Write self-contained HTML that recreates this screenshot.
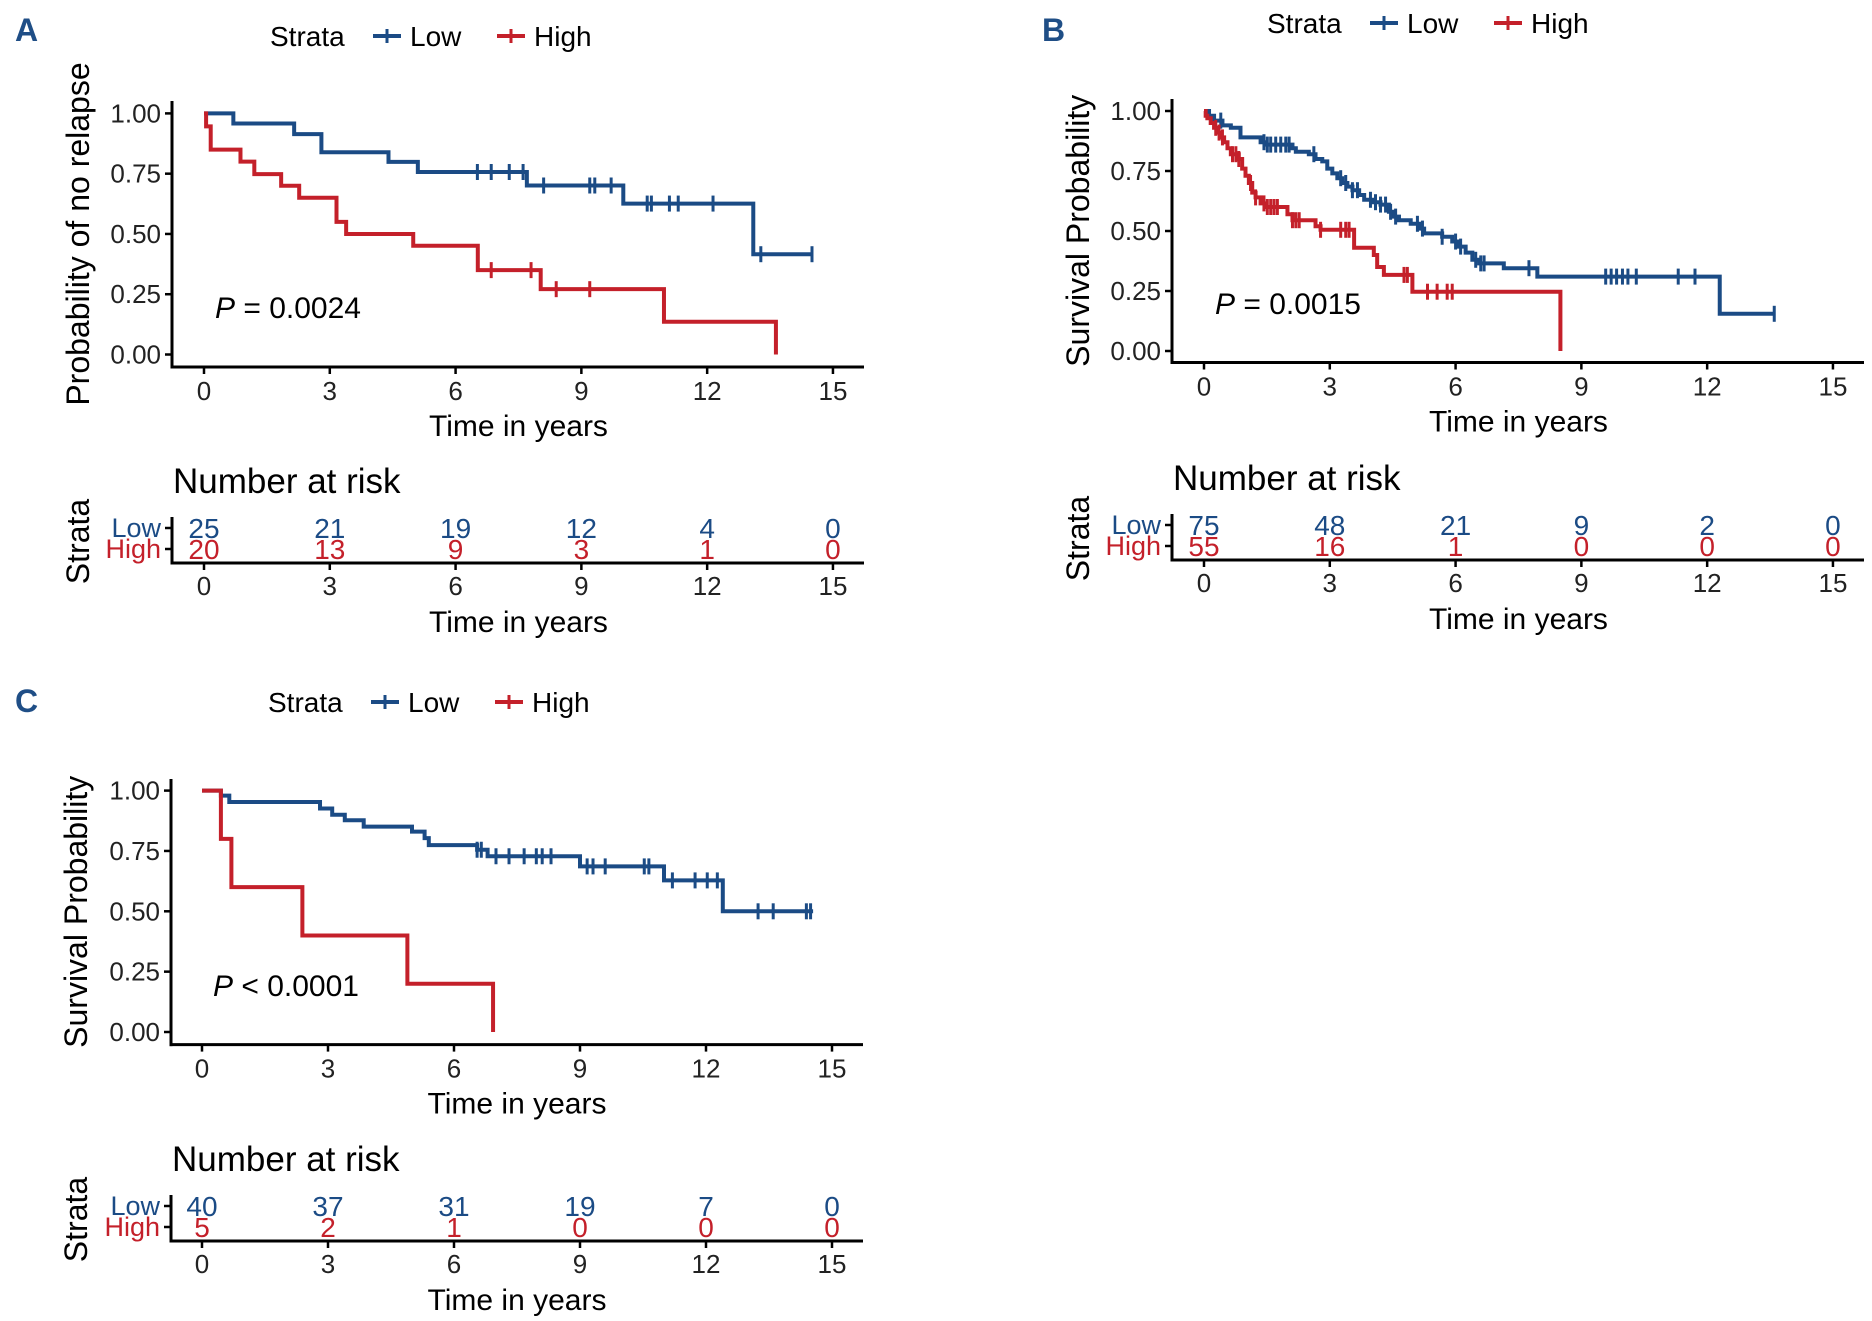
<!DOCTYPE html>
<html><head><meta charset="utf-8">
<style>
html,body{margin:0;padding:0;background:#fff;}
svg{display:block;}
text{font-family:"Liberation Sans",Arial,sans-serif;}
</style></head>
<body>
<svg id="fig" width="1872" height="1321" viewBox="0 0 1872 1321" xmlns="http://www.w3.org/2000/svg"></svg>
<script>
// ===== Panel A data =====
const aLowSteps = [[0,1.0],[0.70,0.958],[2.15,0.914],[2.8,0.839],[4.4,0.799],[5.1,0.757],[7.7,0.701],[10.0,0.626],[13.1,0.416],[14.5,0.416]];
const aLowCens = [6.52,6.85,7.28,7.61,8.1,9.2,9.32,9.71,10.57,10.67,11.1,11.31,12.14,13.28,14.5];
const aHighSteps = [[0,1.0],[0.05,0.946],[0.16,0.85],[0.87,0.80],[1.2,0.748],[1.84,0.70],[2.27,0.65],[3.16,0.55],[3.39,0.50],[4.99,0.451],[6.53,0.35],[8.03,0.271],[10.97,0.136],[13.64,0.0],[13.64,0.0]];
const aHighCens = [6.85,7.8,8.4,9.2];
const aRiskLow = [25,21,19,12,4,0];
const aRiskHigh = [20,13,9,3,1,0];

// ===== Panel B data =====
const bLowSteps = [[0,1.0],[0.12,0.98],[0.24,0.96],[0.44,0.94],[0.64,0.93],[0.87,0.89],[1.35,0.87],[1.47,0.86],[2.11,0.845],[2.19,0.83],[2.50,0.82],[2.66,0.80],[2.82,0.79],[2.94,0.76],[3.06,0.74],[3.18,0.72],[3.30,0.70],[3.42,0.685],[3.54,0.67],[3.70,0.65],[3.82,0.63],[4.01,0.62],[4.21,0.61],[4.41,0.58],[4.53,0.56],[4.65,0.545],[4.93,0.53],[5.13,0.51],[5.25,0.49],[5.68,0.476],[5.92,0.456],[6.08,0.435],[6.24,0.41],[6.40,0.38],[6.56,0.365],[7.15,0.345],[7.95,0.31],[12.3,0.155],[13.6,0.155]];
const bLowCens = [0.40,1.43,1.51,1.59,1.71,1.83,1.95,2.03,2.62,3.26,3.38,3.54,3.66,3.97,4.09,4.21,4.33,4.45,4.57,5.09,5.21,5.68,6.00,6.12,6.48,6.60,6.68,7.75,9.58,9.71,9.84,9.98,10.11,10.31,11.31,11.71,13.6];
const bHighSteps = [[0,1.0],[0.04,0.98],[0.08,0.97],[0.16,0.95],[0.24,0.93],[0.32,0.91],[0.40,0.89],[0.48,0.87],[0.56,0.845],[0.64,0.82],[0.83,0.80],[0.91,0.76],[0.99,0.73],[1.07,0.70],[1.15,0.66],[1.23,0.64],[1.35,0.615],[1.47,0.60],[1.99,0.57],[2.11,0.545],[2.66,0.52],[2.78,0.505],[3.58,0.43],[4.05,0.40],[4.13,0.35],[4.29,0.317],[4.97,0.247],[8.5,0.0],[8.5,0.0]];
const bHighCens = [0.28,0.36,0.44,0.68,0.76,0.83,1.11,1.23,1.43,1.51,1.59,1.67,1.75,2.11,2.19,2.27,2.78,3.26,3.38,3.46,4.77,4.85,5.33,5.56,5.80,5.92];
const bRiskLow = [75,48,21,9,2,0];
const bRiskHigh = [55,16,1,0,0,0];

// ===== Panel C data =====
const cLowSteps = [[0,1.0],[0.45,0.979],[0.65,0.953],[2.81,0.926],[3.1,0.90],[3.4,0.877],[3.85,0.851],[5.0,0.83],[5.3,0.803],[5.4,0.774],[6.55,0.755],[6.8,0.728],[9.0,0.686],[11.0,0.628],[12.4,0.50],[14.55,0.50]];
const cLowCens = [6.55,6.65,7.0,7.31,7.67,7.96,8.1,8.31,9.17,9.31,9.6,10.53,10.64,11.2,11.74,12.03,12.27,13.24,13.6,14.39,14.49];
const cHighSteps = [[0,1.0],[0.45,0.80],[0.7,0.60],[2.39,0.40],[4.89,0.20],[6.93,0.0],[6.93,0.0]];
const cHighCens = [];
const cRiskLow = [40,37,31,19,7,0];
const cRiskHigh = [5,2,1,0,0,0];

const xTicks = [0,3,6,9,12,15];
const yTicks = [0,0.25,0.5,0.75,1.0];
const yTickLabels = ["0.00","0.25","0.50","0.75","1.00"];

const BLUE = "#1b4b85", RED = "#c4202a";
const NS = "http://www.w3.org/2000/svg";
const svg = document.getElementById("fig");

function mk(tag, attrs, parent, txt){
  const e = document.createElementNS(NS, tag);
  for (const k in attrs) e.setAttribute(k, attrs[k]);
  if (txt !== undefined) e.textContent = txt;
  (parent || svg).appendChild(e);
  return e;
}

function panel(p){
  const g = mk("g", {});
  
  
  const X = t => p.x0 + t * p.pxYr;
  const Y = v => p.y0 - v * (p.y0 - p.y1);

  const lt = mk("text", {x:p.lx, y:p.ly, "font-size":32, "font-weight":"bold", fill:"#1f4e86"}, g, p.id);
  
  

  const lg = mk("g", {}, g);
  
  
  mk("text", {x:p.legX, y:p.legY+10, "font-size":28, fill:"#000"}, lg, "Strata");
  [[BLUE,"Low",0],[RED,"High",124]].forEach(([c,lab,off])=>{
    const e = mk("g", {}, lg);
    
    
    const lx = p.legX + 103 + off;
    mk("line", {x1:lx, y1:p.legY, x2:lx+28, y2:p.legY, stroke:c, "stroke-width":4}, e);
    mk("line", {x1:lx+14, y1:p.legY-7, x2:lx+14, y2:p.legY+7, stroke:c, "stroke-width":3}, e);
    mk("text", {x:lx+37, y:p.legY+10, "font-size":28, fill:"#000"}, e, lab);
  });

  const ax = mk("g", {}, g);
  
  
  mk("line", {x1:p.yax, y1:p.ytop, x2:p.yax, y2:p.axY+1.5, stroke:"#000", "stroke-width":3}, ax);
  mk("line", {x1:p.yax-1.5, y1:p.axY, x2:p.axEnd, y2:p.axY, stroke:"#000", "stroke-width":3}, ax);
  yTicks.forEach((v,i)=>{
    mk("line", {x1:p.yax-7, y1:Y(v), x2:p.yax, y2:Y(v), stroke:"#000", "stroke-width":2.5}, ax);
    const t = mk("text", {x:p.yax-11, y:Y(v)+9, "font-size":26, "text-anchor":"end", fill:"#222"}, ax, yTickLabels[i]);
    
    
  });
  xTicks.forEach(v=>{
    mk("line", {x1:X(v), y1:p.axY, x2:X(v), y2:p.axY+7, stroke:"#000", "stroke-width":2.5}, ax);
    const t = mk("text", {x:X(v), y:p.axY+33, "font-size":26, "text-anchor":"middle", fill:"#222"}, ax, String(v));
    
    
  });
  const xt = mk("text", {x:(X(0)+X(15))/2, y:p.axY+69, "font-size":30, "text-anchor":"middle", fill:"#000"}, ax, "Time in years");
  
  
  const ycy = (p.ytop + p.axY)/2;
  const yt = mk("text", {x:p.ytx, y:ycy, "font-size":32, "text-anchor":"middle", fill:"#000", transform:`rotate(-90 ${p.ytx} ${ycy})`}, ax, p.ytitle);
  
  

  function curve(steps, cens, color, name){
    const cg = mk("g", {}, g);
    
    
    let d = `M${X(steps[0][0])},${Y(steps[0][1])}`;
    for (let i=1;i<steps.length;i++){
      d += ` H${X(steps[i][0])} V${Y(steps[i][1])}`;
    }
    const path = mk("path", {d:d, fill:"none", stroke:color, "stroke-width":4, "stroke-linejoin":"miter"}, cg);
    
    
    const lvl = t => { let v = steps[0][1]; for (const s of steps){ if (s[0] <= t) v = s[1]; } return v; };
    cens.forEach(t=>{
      const m = mk("line", {x1:X(t), y1:Y(lvl(t))-8, x2:X(t), y2:Y(lvl(t))+8, stroke:color, "stroke-width":3}, cg);
      
      
    });
  }
  curve(p.lowSteps, p.lowCens, BLUE, "low-curve");
  curve(p.highSteps, p.highCens, RED, "high-curve");

  const pv = mk("text", {x:p.px, y:p.py, "font-size":30, fill:"#000"}, g);
  
  
  mk("tspan", {"font-style":"italic"}, pv, "P");
  mk("tspan", {}, pv, p.ptxt);

  const rt = mk("g", {}, g);
  
  
  const rtt = mk("text", {x:p.yax+1, y:p.rLow-35, "font-size":35, fill:"#000"}, rt, "Number at risk");
  
  
  mk("line", {x1:p.yax, y1:p.rLow-11, x2:p.yax, y2:p.rAx+1.5, stroke:"#000", "stroke-width":3}, rt);
  mk("line", {x1:p.yax-1.5, y1:p.rAx, x2:p.axEnd, y2:p.rAx, stroke:"#000", "stroke-width":3}, rt);
  [[p.rLow,"Low",BLUE,p.riskLow],[p.rHigh,"High",RED,p.riskHigh]].forEach(([yy,lab,c,arr])=>{
    mk("line", {x1:p.yax-7, y1:yy, x2:p.yax, y2:yy, stroke:"#000", "stroke-width":2.5}, rt);
    const l = mk("text", {x:p.yax-11, y:yy+9, "font-size":27, "text-anchor":"end", fill:c}, rt, lab);
    
    
    arr.forEach((n,i)=>{
      const t = mk("text", {x:X(xTicks[i]), y:yy+10, "font-size":28, "text-anchor":"middle", fill:c}, rt, String(n));
      
      
    });
  });
  xTicks.forEach(v=>{
    mk("line", {x1:X(v), y1:p.rAx, x2:X(v), y2:p.rAx+7, stroke:"#000", "stroke-width":2.5}, rt);
    mk("text", {x:X(v), y:p.rAx+32, "font-size":26, "text-anchor":"middle", fill:"#222"}, rt, String(v));
  });
  mk("text", {x:(X(0)+X(15))/2, y:p.rAx+69, "font-size":30, "text-anchor":"middle", fill:"#000"}, rt, "Time in years");
  const sy = (p.rLow + p.rAx)/2 - 4;
  mk("text", {x:p.ytx, y:sy, "font-size":32, "text-anchor":"middle", fill:"#000", transform:`rotate(-90 ${p.ytx} ${sy})`}, rt, "Strata");
}

panel({id:"A", lx:15, ly:41, legX:270, legY:36, x0:204, pxYr:41.93, y1:113.4, y0:354.5, yax:172, ytop:101, axY:367, axEnd:864,
  ytx:89, ytitle:"Probability of no relapse", px:215, py:318, ptxt:" = 0.0024",
  rLow:528, rHigh:549, rAx:563,
  lowSteps:aLowSteps, lowCens:aLowCens, highSteps:aHighSteps, highCens:aHighCens, riskLow:aRiskLow, riskHigh:aRiskHigh});
panel({id:"B", lx:1042, ly:41, legX:1267, legY:23, x0:1204, pxYr:41.93, y1:111, y0:351, yax:1172, ytop:99, axY:362.5, axEnd:1864,
  ytx:1089, ytitle:"Survival Probability", px:1215, py:314, ptxt:" = 0.0015",
  rLow:525, rHigh:546, rAx:560,
  lowSteps:bLowSteps, lowCens:bLowCens, highSteps:bHighSteps, highCens:bHighCens, riskLow:bRiskLow, riskHigh:bRiskHigh});
panel({id:"C", lx:15, ly:712, legX:268, legY:702, x0:202, pxYr:42.0, y1:790.6, y0:1032, yax:171, ytop:779, axY:1044.6, axEnd:863,
  ytx:87, ytitle:"Survival Probability", px:213, py:996, ptxt:" < 0.0001",
  rLow:1206, rHigh:1227, rAx:1241,
  lowSteps:cLowSteps, lowCens:cLowCens, highSteps:cHighSteps, highCens:cHighCens, riskLow:cRiskLow, riskHigh:cRiskHigh});
</script>
</body></html>
